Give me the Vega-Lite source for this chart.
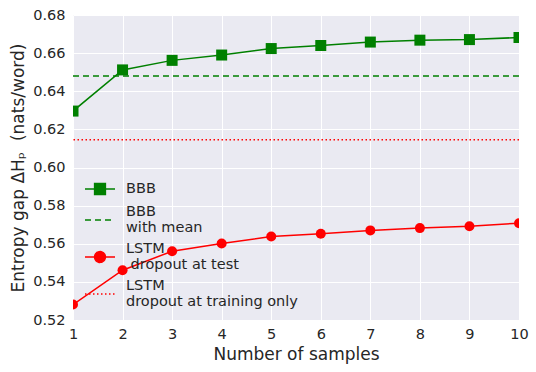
{
  "$schema": "https://vega.github.io/schema/vega-lite/v6.json",
  "width": 446,
  "height": 305,
  "autosize": "none",
  "padding": {"left": 73, "top": 15, "right": 17, "bottom": 52},
  "background": "white",
  "config": {
    "view": {"fill": "#EAEAF2", "stroke": null},
    "font": "DejaVu Sans",
    "axis": {
      "domain": false,
      "ticks": false,
      "gridColor": "#FFFFFF",
      "gridWidth": 1,
      "gridOpacity": 1,
      "labelOverlap": false,
      "labelFont": "DejaVu Sans",
      "labelFontSize": 14.5,
      "labelColor": "#262626",
      "titleFont": "DejaVu Sans",
      "titleFontSize": 17,
      "titleFontWeight": "normal",
      "titleColor": "#262626"
    }
  },
  "datasets": {
    "curves": [
      {"samples": 1, "gap": 0.6296, "series": "BBB"},
      {"samples": 2, "gap": 0.6512, "series": "BBB"},
      {"samples": 3, "gap": 0.6562, "series": "BBB"},
      {"samples": 4, "gap": 0.6590, "series": "BBB"},
      {"samples": 5, "gap": 0.6624, "series": "BBB"},
      {"samples": 6, "gap": 0.6640, "series": "BBB"},
      {"samples": 7, "gap": 0.6658, "series": "BBB"},
      {"samples": 8, "gap": 0.6668, "series": "BBB"},
      {"samples": 9, "gap": 0.6671, "series": "BBB"},
      {"samples": 10, "gap": 0.6682, "series": "BBB"},
      {"samples": 1, "gap": 0.5281, "series": "LSTM|\u200b\u00a0dropout at test"},
      {"samples": 2, "gap": 0.5461, "series": "LSTM|\u200b\u00a0dropout at test"},
      {"samples": 3, "gap": 0.5561, "series": "LSTM|\u200b\u00a0dropout at test"},
      {"samples": 4, "gap": 0.5601, "series": "LSTM|\u200b\u00a0dropout at test"},
      {"samples": 5, "gap": 0.5638, "series": "LSTM|\u200b\u00a0dropout at test"},
      {"samples": 6, "gap": 0.5652, "series": "LSTM|\u200b\u00a0dropout at test"},
      {"samples": 7, "gap": 0.5670, "series": "LSTM|\u200b\u00a0dropout at test"},
      {"samples": 8, "gap": 0.5682, "series": "LSTM|\u200b\u00a0dropout at test"},
      {"samples": 9, "gap": 0.5692, "series": "LSTM|\u200b\u00a0dropout at test"},
      {"samples": 10, "gap": 0.5708, "series": "LSTM|\u200b\u00a0dropout at test"}
    ],
    "flat": [
      {"gap": 0.648, "series": "BBB|with mean"},
      {"gap": 0.6145, "series": "LSTM|dropout at training only"}
    ]
  },
  "encoding": {
    "y": {
      "field": "gap", "type": "quantitative",
      "scale": {"domain": [0.52, 0.68], "nice": false, "zero": false},
      "axis": {"values": [0.52, 0.54, 0.56, 0.58, 0.6, 0.62, 0.64, 0.66, 0.68], "format": ".2f", "title": "Entropy gap ΔHₚ\u00a0 (nats/word)", "labelPadding": 8, "titlePadding": 5, "labelOverlap": false, "labelFlush": false}
    }
  },
  "layer": [
    {
      "data": {"name": "curves"},
      "mark": {"type": "line", "strokeWidth": 1.5, "clip": true},
      "encoding": {
        "x": {
          "field": "samples", "type": "quantitative",
          "scale": {"domain": [1, 10], "nice": false},
          "axis": {"values": [1, 2, 3, 4, 5, 6, 7, 8, 9, 10], "title": "Number of samples", "labelPadding": 7, "titlePadding": 6, "labelFlush": false, "labelOverlap": false}
        },
        "color": {
          "field": "series", "type": "nominal",
          "scale": {
            "domain": ["BBB", "BBB|with mean", "LSTM|\u200b\u00a0dropout at test", "LSTM|dropout at training only"],
            "range": ["#008000", "#008000", "#FF0000", "#FF0000"]
          },
          "legend": {
            "title": null,
            "orient": "bottom-left",
            "offset": 11,
            "padding": 0,
            "rowPadding": 6,
            "symbolSize": 900,
            "symbolStrokeWidth": 1.5,
            "labelOffset": 10,
            "labelFont": "DejaVu Sans",
            "labelFontSize": 14.5,
            "labelColor": "#262626",
            "labelLimit": 0,
            "labelExpr": "split(datum.label, '|')",
            "encode": {
              "labels": {"update": {
                "lineHeight": {"value": 16},
                "dy": {"signal": "indexof(datum.label, '|') >= 0 ? -8 : 0"}
              }},
              "symbols": {
                "update": {
                  "shape": {"signal": "datum.value == 'BBB' ? 'M-1,0H1M-0.36,-0.36H0.36V0.36H-0.36Z' : indexof(datum.value, 'test') >= 0 ? 'M-1,0H1M-0.36,0A0.36,0.36 0 1,0 0.36,0A0.36,0.36 0 1,0 -0.36,0Z' : 'M-1,0H1'"},
                  "strokeDash": {"signal": "datum.value == 'BBB|with mean' ? [6, 4] : datum.value == 'LSTM|dropout at training only' ? [1.5, 2.5] : [1, 0]"},
                  "stroke": {"signal": "scale('color', datum.value)"},
                  "fill": {"signal": "scale('color', datum.value)"},
                  "opacity": {"value": 1},
                  "fillOpacity": {"value": 1},
                  "strokeOpacity": {"value": 1}
                }
              }
            }
          }
        }
      }
    },
    {
      "data": {"name": "flat"},
      "mark": {"type": "rule", "strokeWidth": 1.5},
      "encoding": {
        "color": {"field": "series", "type": "nominal"},
        "strokeDash": {
          "field": "series", "type": "nominal", "legend": null,
          "scale": {"domain": ["BBB|with mean", "LSTM|dropout at training only"], "range": [[6, 4], [1.5, 2.5]]}
        }
      }
    },
    {
      "data": {"name": "curves"},
      "mark": {"type": "point", "filled": true, "opacity": 1, "clip": true},
      "encoding": {
        "x": {"field": "samples", "type": "quantitative"},
        "color": {"field": "series", "type": "nominal"},
        "shape": {"field": "series", "type": "nominal", "legend": null,
          "scale": {"domain": ["BBB", "LSTM|\u200b\u00a0dropout at test"], "range": ["square", "circle"]}},
        "size": {"field": "series", "type": "nominal", "legend": null,
          "scale": {"domain": ["BBB", "LSTM|\u200b\u00a0dropout at test"], "range": [121, 100]}}
      }
    }
  ]
}
